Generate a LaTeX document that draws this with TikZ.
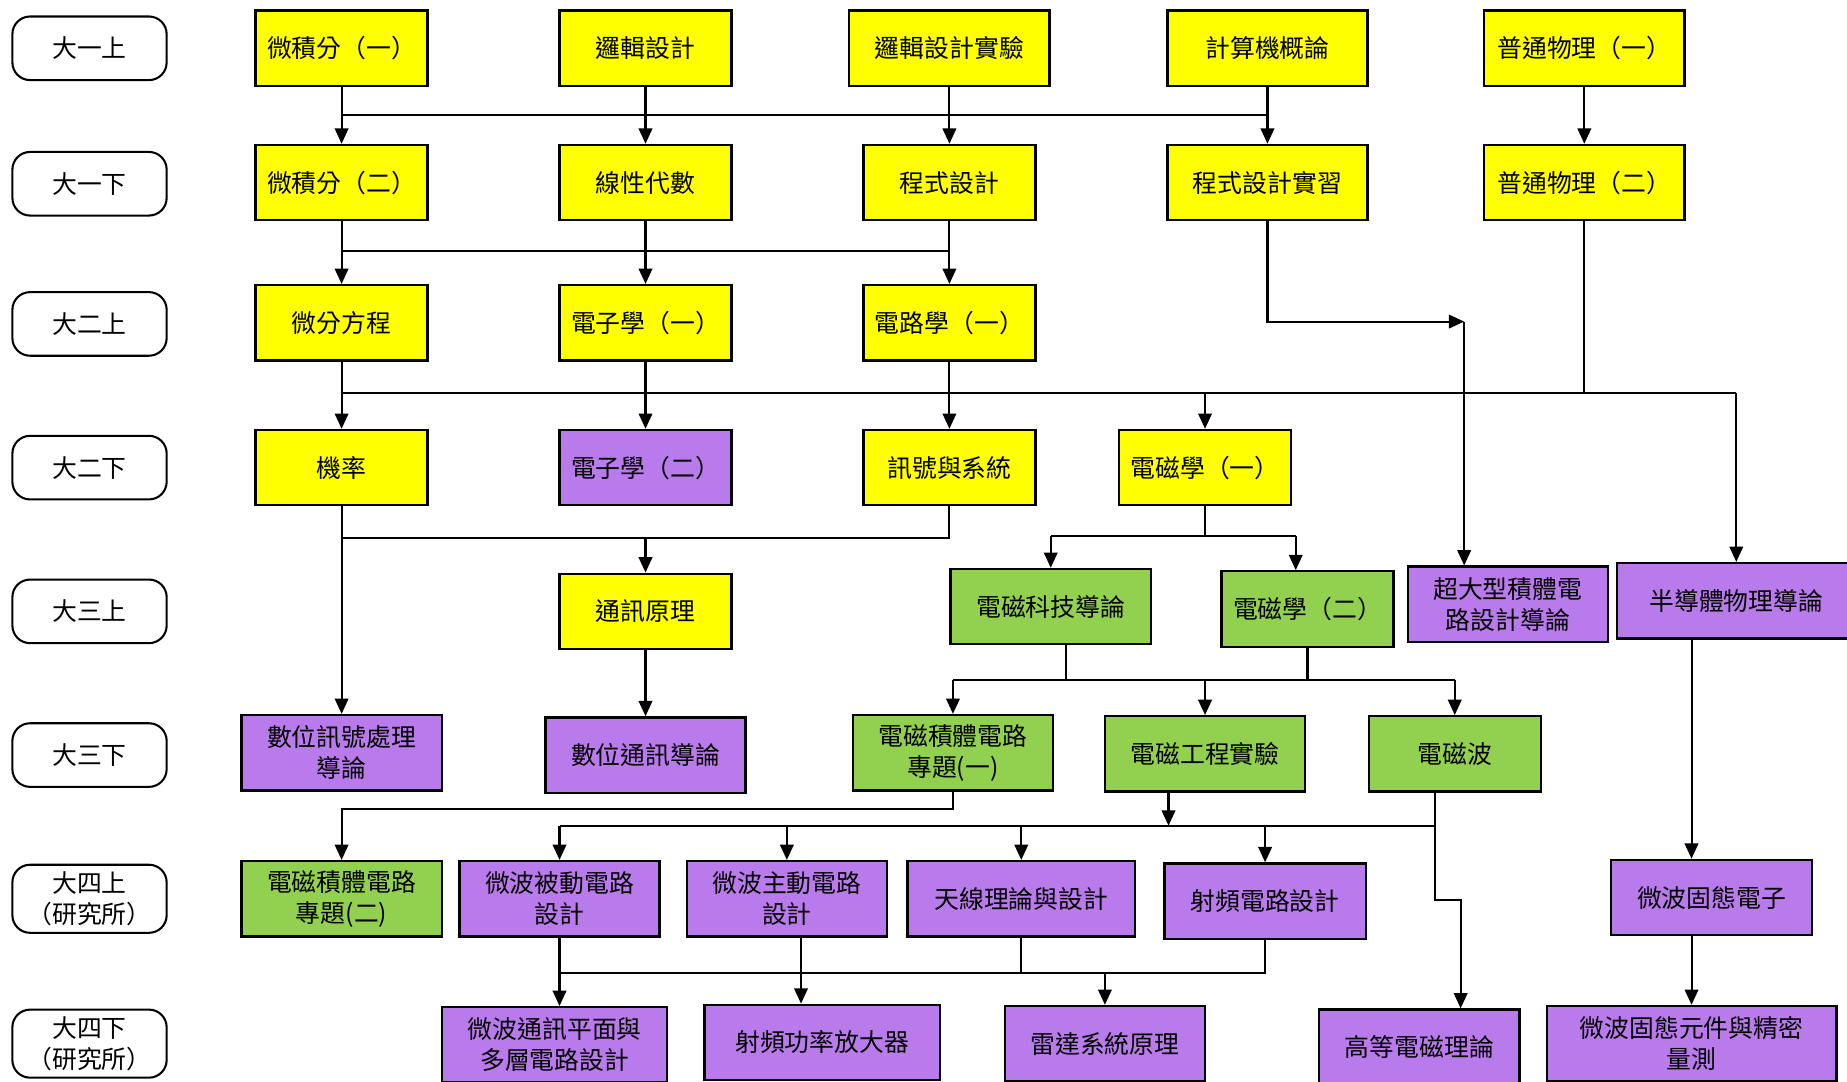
\documentclass[tikz,border=0pt]{standalone}
\usepackage{fontspec}
\newfontfamily\cjk{Noto Sans CJK TC}
\usetikzlibrary{arrows.meta}
\definecolor{cyel}{RGB}{255,255,0}
\definecolor{cpur}{RGB}{185,122,236}
\definecolor{cgrn}{RGB}{146,208,80}
\tikzset{
  box/.style={draw, line width=1.1pt, minimum height=1.28cm, inner sep=1pt, align=center, font=\cjk\fontsize{12}{15}\selectfont},
  yel/.style={box, fill=cyel},
  pur/.style={box, fill=cpur},
  grn/.style={box, fill=cgrn},
  term/.style={draw, line width=1pt, rounded corners=0.3cm, minimum width=2.62cm, minimum height=1.08cm, align=center, font=\cjk\fontsize{12}{15}\selectfont},
  arr/.style={line width=1pt, -{Triangle[length=0.26cm,width=0.23cm]}},
  ln/.style={line width=1pt}
}
\begin{document}
\begin{tikzpicture}[x=0.02cm, y=-0.02cm]
  \useasboundingbox (0,0) rectangle (1568,918);
  \node[term] (t1) at (76,41) {大一上};
  \node[term] (t2) at (76,156) {大一下};
  \node[term] (t3) at (76,275) {大二上};
  \node[term] (t4) at (76,397) {大二下};
  \node[term] (t5) at (76,519) {大三上};
  \node[term] (t6) at (76,641) {大三下};
  \node[term] (t7) at (76,763) {大四上\\（研究所）};
  \node[term] (t8) at (76,886) {大四下\\（研究所）};

  \node[yel, minimum width=2.92cm] (calcA) at (290,41) {微積分（一）};
  \node[yel, minimum width=2.92cm] (logic) at (548,41) {邏輯設計};
  \node[yel, minimum width=3.4cm] (logiclab) at (806,41) {邏輯設計實驗};
  \node[yel, minimum width=3.4cm] (introcs) at (1076,41) {計算機概論};
  \node[yel, minimum width=3.4cm] (phyA) at (1345,41) {普通物理（一）};

  \node[yel, minimum width=2.92cm] (calcB) at (290,155) {微積分（二）};
  \node[yel, minimum width=2.92cm] (linalg) at (548,155) {線性代數};
  \node[yel, minimum width=2.92cm] (prog) at (806,155) {程式設計};
  \node[yel, minimum width=3.4cm] (proglab) at (1076,155) {程式設計實習};
  \node[yel, minimum width=3.4cm] (phyB) at (1345,155) {普通物理（二）};

  \node[yel, minimum width=2.92cm] (diffeq) at (290,274) {微分方程};
  \node[yel, minimum width=2.92cm] (elecA) at (548,274) {電子學（一）};
  \node[yel, minimum width=2.92cm] (circA) at (806,274) {電路學（一）};

  \node[yel, minimum width=2.92cm] (prob) at (290,397) {機率};
  \node[pur, minimum width=2.92cm] (elecB) at (548,397) {電子學（二）};
  \node[yel, minimum width=2.92cm] (sigsys) at (806,397) {訊號與系統};
  \node[yel, minimum width=2.92cm] (emA) at (1023,397) {電磁學（一）};

  \node[yel, minimum width=2.92cm] (comm) at (548,519) {通訊原理};
  \node[grn, minimum width=3.4cm] (emtech) at (892,515) {電磁科技導論};
  \node[grn, minimum width=2.92cm] (emB) at (1110,517) {電磁學（二）};
  \node[pur, minimum width=3.4cm] (vlsi) at (1280,513) {超大型積體電\\路設計導論};
  \node[pur, minimum width=4.04cm] (semi) at (1474,510) {半導體物理導論};

  \node[pur, minimum width=3.4cm] (dsp) at (290,639) {數位訊號處理\\導論};
  \node[pur, minimum width=3.4cm] (dcomm) at (548,641) {數位通訊導論};
  \node[grn, minimum width=3.4cm] (emicA) at (809,639) {電磁積體電路\\專題(一)};
  \node[grn, minimum width=3.4cm] (emlab) at (1023,640) {電磁工程實驗};
  \node[grn, minimum width=2.92cm] (emwave) at (1235,640) {電磁波};

  \node[grn, minimum width=3.4cm] (emicB) at (290,763) {電磁積體電路\\專題(二)};
  \node[pur, minimum width=3.4cm] (mwpass) at (475,763) {微波被動電路\\設計};
  \node[pur, minimum width=3.4cm] (mwact) at (668,763) {微波主動電路\\設計};
  \node[pur, minimum width=3.86cm] (antenna) at (867,763) {天線理論與設計};
  \node[pur, minimum width=3.42cm] (rfc) at (1074,765) {射頻電路設計};
  \node[pur, minimum width=3.42cm] (mwsolid) at (1453,762) {微波固態電子};

  \node[pur, minimum width=3.82cm] (mwcomm) at (471,887) {微波通訊平面與\\多層電路設計};
  \node[pur, minimum width=4cm] (rfpa) at (698,885) {射頻功率放大器};
  \node[pur, minimum width=3.4cm] (radar) at (938,886) {雷達系統原理};
  \node[pur, minimum width=3.4cm] (adv) at (1205,889) {高等電磁理論};
  \node[pur, minimum width=4.92cm] (mwmeas) at (1436,886) {微波固態元件與精密\\量測};

  \coordinate (bus1) at (0,98);
  \coordinate (bus2) at (0,213);
  \coordinate (bus3) at (0,334);
  \coordinate (bus4) at (0,457);
  \coordinate (bus5) at (0,455);
  \coordinate (bus6) at (0,577);
  \coordinate (bus7) at (0,687);
  \coordinate (bus8) at (0,701);
  \coordinate (bus9) at (0,826);
  \coordinate (vlsiIn) at (1243,273);
  \coordinate (emBIn) at (1100,0);
  \coordinate (techOut) at (905,0);
  \coordinate (labIn) at (992,0);
  \coordinate (waveOut) at (1218,0);
  \coordinate (advIn) at (1240,764);
  \coordinate (actOut) at (680,0);

  \draw[arr] (calcA) -- (calcB);
  \draw[arr] (logic) -- (linalg);
  \draw[arr] (logiclab) -- (prog);
  \draw[arr] (introcs) -- (proglab);
  \draw[arr] (phyA) -- (phyB);
  \draw[ln] (calcA |- bus1) -- (introcs |- bus1);

  \draw[arr] (calcB) -- (diffeq);
  \draw[arr] (linalg) -- (elecA);
  \draw[arr] (prog) -- (circA);
  \draw[ln] (calcB |- bus2) -- (prog |- bus2);

  \draw[arr] (proglab.south) |- (vlsiIn);
  \draw[arr] (vlsiIn) -- (vlsiIn |- vlsi.north);

  \draw[arr] (diffeq) -- (prob);
  \draw[arr] (elecA) -- (elecB);
  \draw[arr] (circA) -- (sigsys);
  \draw[ln] (phyB.south) -- (phyB |- bus3);
  \draw[ln] (diffeq |- bus3) -- (semi |- bus3);
  \draw[arr] (emA |- bus3) -- (emA.north);
  \draw[arr] (semi |- bus3) -- (semi.north);

  \draw[arr] (prob) -- (dsp);
  \draw[ln] (sigsys.south) -- (sigsys |- bus4) -- (prob |- bus4);
  \draw[arr] (comm |- bus4) -- (comm.north);

  \draw[ln] (emA.south) -- (emA |- bus5);
  \draw[ln] (emtech |- bus5) -- (emBIn |- bus5);
  \draw[arr] (emtech |- bus5) -- (emtech.north);
  \draw[arr] (emBIn |- bus5) -- (emBIn |- emB.north);

  \draw[arr] (comm) -- (dcomm);

  \draw[ln] (techOut |- emtech.south) -- (techOut |- bus6);
  \draw[ln] (emB.south) -- (emB |- bus6);
  \draw[ln] (emicA |- bus6) -- (emwave |- bus6);
  \draw[arr] (emicA |- bus6) -- (emicA.north);
  \draw[arr] (emlab |- bus6) -- (emlab.north);
  \draw[arr] (emwave |- bus6) -- (emwave.north);

  \draw[arr] (emicA.south) -- (emicA |- bus7) -| (emicB.north);

  \draw[arr] (labIn |- emlab.south) -- (labIn |- bus8);
  \draw[ln] (waveOut |- emwave.south) -- (waveOut |- bus8) -- (mwpass |- bus8);
  \draw[arr] (waveOut |- emwave.south) |- (advIn) -- (advIn |- adv.north);
  \draw[arr] (mwpass |- bus8) -- (mwpass.north);
  \draw[arr] (mwact |- bus8) -- (mwact.north);
  \draw[arr] (antenna |- bus8) -- (antenna.north);
  \draw[arr] (rfc |- bus8) -- (rfc.north);

  \draw[arr] (mwpass.south) -- (mwpass.south |- mwcomm.north);
  \draw[arr] (actOut |- mwact.south) -- (actOut |- rfpa.north);
  \draw[ln] (antenna.south) -- (antenna |- bus9);
  \draw[ln] (rfc.south) -- (rfc |- bus9) -- (mwpass |- bus9);
  \draw[arr] (radar |- bus9) -- (radar.north);

  \draw[arr] (mwmeas |- semi.south) -- (mwmeas |- mwsolid.north);
  \draw[arr] (mwmeas |- mwsolid.south) -- (mwmeas.north);
\end{tikzpicture}
\end{document}
